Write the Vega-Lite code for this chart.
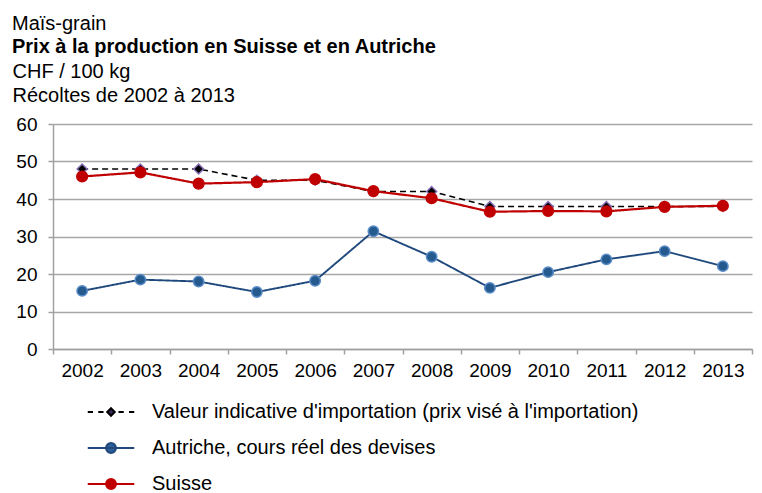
{
  "$schema": "https://vega.github.io/schema/vega-lite/v6.json",
  "width": 699,
  "height": 225,
  "autosize": {"type": "none"},
  "padding": {"left": 53, "top": 124, "right": 10, "bottom": 144},
  "background": "white",
  "config": {
    "font": "Liberation Sans",
    "view": {"stroke": null},
    "axis": {"labelFont": "Liberation Sans", "labelFontSize": 19, "labelColor": "#000000", "domainColor": "#a0a0a0", "tickColor": "#a0a0a0", "gridColor": "#a6a6a6", "domainWidth": 1.5, "tickWidth": 1.5, "gridWidth": 1.5}
  },
  "title": {
    "text": "Maïs-grain",
    "subtitle": "Prix à la production en Suisse et en Autriche",
    "anchor": "start",
    "frame": "group",
    "dx": -41,
    "offset": 4,
    "font": "Liberation Sans",
    "fontSize": 20,
    "fontWeight": "normal",
    "color": "#000000",
    "subtitleFont": "Liberation Sans",
    "subtitleFontSize": 20,
    "subtitleFontWeight": "bold",
    "subtitleColor": "#000000",
    "subtitlePadding": 3
  },
  "data": {
    "values": [
      {"year": "2002", "series": "Valeur indicative d'importation (prix visé à l'importation)", "value": 48},
      {"year": "2003", "series": "Valeur indicative d'importation (prix visé à l'importation)", "value": 48},
      {"year": "2004", "series": "Valeur indicative d'importation (prix visé à l'importation)", "value": 48},
      {"year": "2005", "series": "Valeur indicative d'importation (prix visé à l'importation)", "value": 45},
      {"year": "2006", "series": "Valeur indicative d'importation (prix visé à l'importation)", "value": 45},
      {"year": "2007", "series": "Valeur indicative d'importation (prix visé à l'importation)", "value": 42},
      {"year": "2008", "series": "Valeur indicative d'importation (prix visé à l'importation)", "value": 42},
      {"year": "2009", "series": "Valeur indicative d'importation (prix visé à l'importation)", "value": 38},
      {"year": "2010", "series": "Valeur indicative d'importation (prix visé à l'importation)", "value": 38},
      {"year": "2011", "series": "Valeur indicative d'importation (prix visé à l'importation)", "value": 38},
      {"year": "2012", "series": "Valeur indicative d'importation (prix visé à l'importation)", "value": 38},
      {"year": "2013", "series": "Valeur indicative d'importation (prix visé à l'importation)", "value": 38},
      {"year": "2002", "series": "Autriche, cours réel des devises", "value": 15.5},
      {"year": "2003", "series": "Autriche, cours réel des devises", "value": 18.5},
      {"year": "2004", "series": "Autriche, cours réel des devises", "value": 18.0},
      {"year": "2005", "series": "Autriche, cours réel des devises", "value": 15.2},
      {"year": "2006", "series": "Autriche, cours réel des devises", "value": 18.2},
      {"year": "2007", "series": "Autriche, cours réel des devises", "value": 31.4},
      {"year": "2008", "series": "Autriche, cours réel des devises", "value": 24.6},
      {"year": "2009", "series": "Autriche, cours réel des devises", "value": 16.3},
      {"year": "2010", "series": "Autriche, cours réel des devises", "value": 20.5},
      {"year": "2011", "series": "Autriche, cours réel des devises", "value": 23.9},
      {"year": "2012", "series": "Autriche, cours réel des devises", "value": 26.1},
      {"year": "2013", "series": "Autriche, cours réel des devises", "value": 22.1},
      {"year": "2002", "series": "Suisse", "value": 46.0},
      {"year": "2003", "series": "Suisse", "value": 47.1},
      {"year": "2004", "series": "Suisse", "value": 44.1},
      {"year": "2005", "series": "Suisse", "value": 44.5},
      {"year": "2006", "series": "Suisse", "value": 45.3},
      {"year": "2007", "series": "Suisse", "value": 42.1},
      {"year": "2008", "series": "Suisse", "value": 40.2},
      {"year": "2009", "series": "Suisse", "value": 36.6},
      {"year": "2010", "series": "Suisse", "value": 36.8},
      {"year": "2011", "series": "Suisse", "value": 36.7},
      {"year": "2012", "series": "Suisse", "value": 37.9},
      {"year": "2013", "series": "Suisse", "value": 38.2}
    ]
  },
  "encoding": {
    "x": {
      "field": "year",
      "type": "ordinal",
      "scale": {"type": "band", "paddingInner": 0, "paddingOuter": 0},
      "axis": {"title": null, "labelAngle": 0, "tickBand": "extent", "tickSize": 5, "labelPadding": 7, "grid": false}
    },
    "y": {
      "field": "value",
      "type": "quantitative",
      "scale": {"domain": [0, 60], "nice": false},
      "axis": {
        "values": [0, 10, 20, 30, 40, 50, 60],
        "tickSize": 5,
        "labelPadding": 11,
        "title": ["CHF / 100 kg", "Récoltes de 2002 à 2013"],
        "titleAngle": 0,
        "titleAlign": "left",
        "titleBaseline": "alphabetic",
        "titleX": -41,
        "titleY": -47,
        "titleFont": "Liberation Sans",
        "titleFontSize": 20,
        "titleFontWeight": "normal",
        "titleColor": "#000000",
        "titleLineHeight": 24
      }
    }
  },
  "layer": [
    {
      "mark": {"type": "line"},
      "encoding": {
        "color": {
          "field": "series",
          "type": "nominal",
          "scale": {
            "domain": ["Valeur indicative d'importation (prix visé à l'importation)", "Autriche, cours réel des devises", "Suisse"],
            "range": ["#000000", "#1F497D", "#C00000"]
          },
          "legend": {
            "orient": "none",
            "legendX": 42,
            "legendY": 272,
            "direction": "vertical",
            "title": null,
            "padding": 0,
            "symbolSize": 900,
            "symbolStrokeWidth": 2,
            "labelOffset": 25,
            "rowPadding": 10,
            "labelFont": "Liberation Sans",
            "labelFontSize": 20,
            "labelColor": "#000000",
            "labelLimit": 700,
            "encode": {
              "symbols": {
                "update": {
                  "shape": {"signal": "datum.value === 'Suisse' || datum.value === 'Autriche, cours réel des devises' ? 'M-1.55,0H1.55M0.33,0A0.33,0.33,0,1,1,-0.33,0A0.33,0.33,0,1,1,0.33,0Z' : 'M-1.55,0H-1.2M-0.85,0H-0.5M0.5,0H0.85M1.2,0H1.55M0,-0.25L0.25,0L0,0.25L-0.25,0Z'"},
                  "stroke": {"signal": "datum.value === 'Suisse' ? '#C00000' : datum.value === 'Autriche, cours réel des devises' ? '#1F497D' : '#000000'"},
                  "fill": {"signal": "datum.value === 'Suisse' ? '#C00000' : datum.value === 'Autriche, cours réel des devises' ? '#2E6099' : '#3a2a5a'"},
                  "strokeWidth": {"value": 2},
                  "opacity": {"value": 1}
                }
              }
            }
          }
        },
        "strokeDash": {
          "field": "series",
          "type": "nominal",
          "scale": {
            "domain": ["Suisse", "Autriche, cours réel des devises", "Valeur indicative d'importation (prix visé à l'importation)"],
            "range": [[1, 0], [1, 0], [6, 4]]
          },
          "legend": null
        },
        "strokeWidth": {
          "field": "series",
          "type": "nominal",
          "scale": {
            "domain": ["Suisse", "Autriche, cours réel des devises", "Valeur indicative d'importation (prix visé à l'importation)"],
            "range": [2.2, 1.6, 2]
          },
          "legend": null
        }
      }
    },
    {
      "mark": {"type": "point", "filled": true, "opacity": 1, "strokeWidth": 1.5},
      "encoding": {
        "shape": {
          "field": "series",
          "type": "nominal",
          "scale": {
            "domain": ["Suisse", "Autriche, cours réel des devises", "Valeur indicative d'importation (prix visé à l'importation)"],
            "range": ["circle", "circle", "diamond"]
          },
          "legend": null
        },
        "size": {
          "field": "series",
          "type": "nominal",
          "scale": {
            "domain": ["Suisse", "Autriche, cours réel des devises", "Valeur indicative d'importation (prix visé à l'importation)"],
            "range": [115, 100, 60]
          },
          "legend": null
        },
        "fill": {
          "field": "series",
          "type": "nominal",
          "scale": {
            "domain": ["Suisse", "Autriche, cours réel des devises", "Valeur indicative d'importation (prix visé à l'importation)"],
            "range": ["#C00000", "#245A8D", "#000000"]
          },
          "legend": null
        },
        "stroke": {
          "field": "series",
          "type": "nominal",
          "scale": {
            "domain": ["Suisse", "Autriche, cours réel des devises", "Valeur indicative d'importation (prix visé à l'importation)"],
            "range": ["#C00000", "#5B8CC8", "#8870B8"]
          },
          "legend": null
        }
      }
    }
  ]
}
